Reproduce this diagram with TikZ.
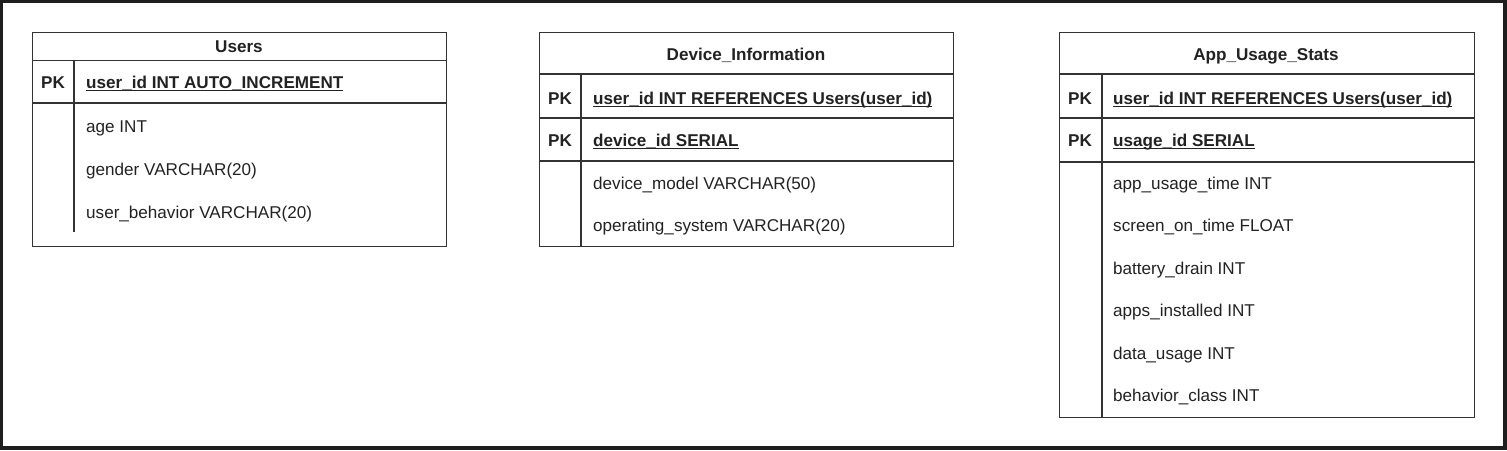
\documentclass[tikz,border=0pt]{standalone}
\usepackage{fontspec}
\setmainfont{Liberation Sans}
\definecolor{frame}{HTML}{1E1E1E}
\definecolor{lin}{HTML}{333333}
\definecolor{txt}{HTML}{222222}
\newcommand\myul[1]{\setbox0\hbox{#1}\rlap{\rule[-3.2pt]{\wd0}{1.1pt}}\box0}
\begin{document}
\begin{tikzpicture}[x=1pt,y=-1pt,
  tablebox/.style={draw=lin,line width=1.4pt,fill=white,inner sep=0pt,anchor=north west},
  sep/.style={draw=lin,line width=1.4pt},
  pksep/.style={draw=lin,line width=1.8pt},
  txtnode/.style={inner sep=0pt,anchor=base west,text=txt,font=\fontsize{17.1}{20}\selectfont},
  pk/.style={txtnode,font=\fontsize{17.1}{20}\selectfont\bfseries},
  head/.style={inner sep=0pt,anchor=base,text=txt,font=\fontsize{17.1}{20}\selectfont\bfseries}]
\fill[frame] (0,0) rectangle (1507,450);
\fill[white] (3,3) rectangle (1503,446);
\useasboundingbox (0,0) rectangle (1507,450);

% Users
\node[tablebox,minimum width=414pt,minimum height=214pt] (users) at (32,32) {};
\draw[sep] (32,60.5) -- (446,60.5);
\draw[pksep] (32,103) -- (446,103);
\draw[sep] (74,60.5) -- (74,232);
\node[head] (usersh) at (239,52) {Users};
\node[pk] (upk) at (41,88) {PK};
\node[pk] (uid) at (86,88) {\myul{user\_id INT AUTO\_INCREMENT}};
\node[txtnode] (uage) at (86,132) {age INT};
\node[txtnode] (ugen) at (86,175) {gender VARCHAR(20)};
\node[txtnode] (ubeh) at (86,218) {user\_behavior VARCHAR(20)};

% Device_Information
\node[tablebox,minimum width=414pt,minimum height=214pt] (dev) at (539,32) {};
\draw[sep] (539,74) -- (953,74);
\draw[pksep] (539,118) -- (953,118);
\draw[pksep] (539,161) -- (953,161);
\draw[sep] (581,74) -- (581,246);
\node[head] (devh) at (746,60) {Device\_Information};
\node[pk] (dpk1) at (548,104) {PK};
\node[pk] (duid) at (593,104) {\myul{user\_id INT REFERENCES Users(user\_id)}};
\node[pk] (dpk2) at (548,146) {PK};
\node[pk] (ddid) at (593,146) {\myul{device\_id SERIAL}};
\node[txtnode] (dmod) at (593,189) {device\_model VARCHAR(50)};
\node[txtnode] (dos) at (593,231) {operating\_system VARCHAR(20)};

% App_Usage_Stats
\node[tablebox,minimum width=415pt,minimum height=385pt] (app) at (1059,32) {};
\draw[sep] (1059,74) -- (1474,74);
\draw[pksep] (1059,118) -- (1474,118);
\draw[pksep] (1059,162) -- (1474,162);
\draw[sep] (1102,74) -- (1102,417);
\node[head] (apph) at (1266,60) {App\_Usage\_Stats};
\node[pk] (apk1) at (1068,104) {PK};
\node[pk] (auid) at (1113,104) {\myul{user\_id INT REFERENCES Users(user\_id)}};
\node[pk] (apk2) at (1068,146) {PK};
\node[pk] (aus) at (1113,146) {\myul{usage\_id SERIAL}};
\node[txtnode] (a1) at (1113,189) {app\_usage\_time INT};
\node[txtnode] (a2) at (1113,231) {screen\_on\_time FLOAT};
\node[txtnode] (a3) at (1113,274) {battery\_drain INT};
\node[txtnode] (a4) at (1113,316) {apps\_installed INT};
\node[txtnode] (a5) at (1113,359) {data\_usage INT};
\node[txtnode] (a6) at (1113,401) {behavior\_class INT};
\end{tikzpicture}
\end{document}
